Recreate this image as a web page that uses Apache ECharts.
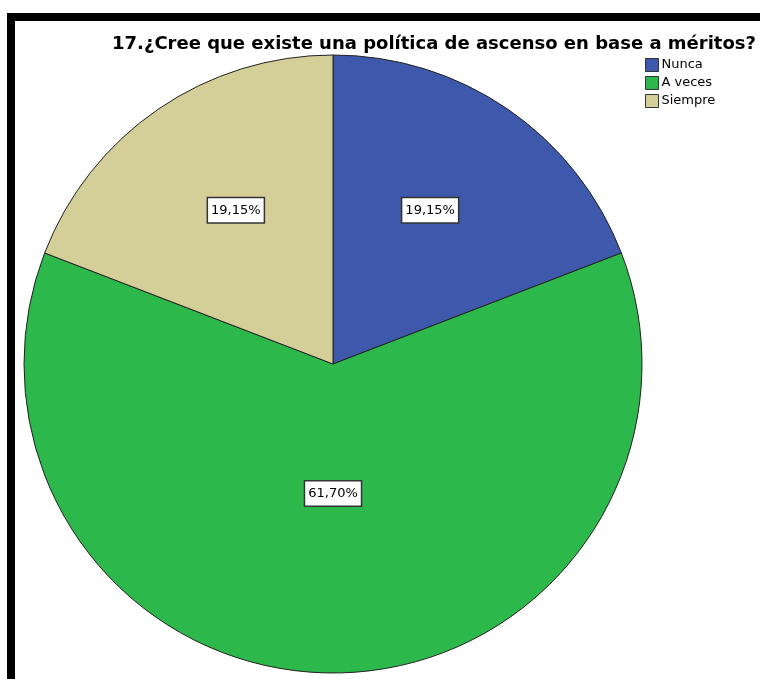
<!DOCTYPE html>
<html>
<head>
<meta charset="utf-8">
<script src="https://cdn.jsdelivr.net/npm/echarts@6/dist/echarts.min.js"></script>
<style>
html,body{margin:0;padding:0;background:#fff;}
#chart{width:760px;height:679px;}
</style>
</head>
<body>
<div id="chart"></div>
<script>
const titleText = '17.¿Cree que existe una política de ascenso en base a méritos?';
const categories = ['Nunca', 'A veces', 'Siempre'];
const percentages = [19.15, 61.70, 19.15];

const colors = ['#3E58AB', '#2DB84B', '#D4CE99'];
const labelOffsets = [[8, -24], [0, -28], [-8, -24]];

const chart = echarts.init(document.getElementById('chart'), null, {renderer: 'canvas'});

const data = categories.map((c, i) => ({
  name: c,
  value: percentages[i],
  itemStyle: {color: colors[i]},
  label: {offset: labelOffsets[i]}
}));

chart.setOption({
  animation: false,
  backgroundColor: '#ffffff',
  title: {
    text: titleText,
    left: 429,
    top: 30,
    textAlign: 'center',
    textStyle: {fontFamily: 'DejaVu Sans', fontWeight: 'bold', fontSize: 18, color: '#000'}
  },
  legend: {
    orient: 'vertical',
    left: 640,
    top: 53,
    itemWidth: 13,
    itemHeight: 13,
    itemGap: 4,
    icon: 'rect',
    selectedMode: false,
    itemStyle: {borderColor: '#333', borderWidth: 1},
    textStyle: {fontFamily: 'DejaVu Sans', fontSize: 13, color: '#000', padding: [0, 0, 0, -2]},
    data: categories
  },
  graphic: [
    {type: 'rect', shape: {x: 7, y: 13, width: 753, height: 8}, style: {fill: '#000'}, silent: true},
    {type: 'rect', shape: {x: 7, y: 13, width: 8, height: 666}, style: {fill: '#000'}, silent: true}
  ],
  series: [{
    type: 'pie',
    center: [333, 364],
    radius: 309,
    startAngle: 90,
    clockwise: true,
    silent: true,
    emphasis: {disabled: true},
    itemStyle: {borderColor: '#222', borderWidth: 1},
    label: {
      show: true,
      position: 'inside',
      formatter: p => p.value.toFixed(2).replace('.', ',') + '%',
      fontFamily: 'DejaVu Sans',
      fontSize: 13,
      lineHeight: 14,
      color: '#000',
      backgroundColor: '#fff',
      borderColor: '#333',
      borderWidth: 1.5,
      padding: [5, 3]
    },
    labelLine: {show: false},
    data: data
  }]
});
</script>
</body>
</html>
